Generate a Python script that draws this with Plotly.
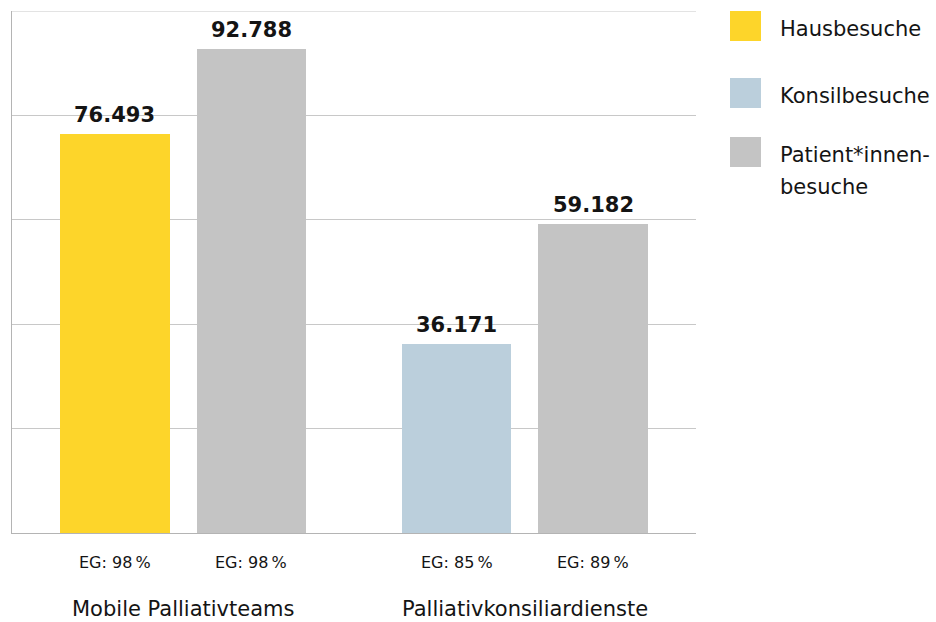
import plotly.graph_objects as go

# Categories and values
groups = ["Mobile Palliativteams", "Palliativkonsiliardienste"]
series = ["Hausbesuche", "Konsilbesuche", "Patient*innen-\nbesuche"]
series_colors = ["#FDD52A", "#BBCFDC", "#C4C4C4"]

# each bar: (group index, series index)
bar_group = [0, 0, 1, 1]
bar_series = [0, 2, 1, 2]
bar_values = [76493, 92788, 36171, 59182]
bar_eg = ["EG: 98\u2009%", "EG: 98\u2009%", "EG: 85\u2009%", "EG: 89\u2009%"]

y_max = 100000
y_step = 20000

FONT = "DejaVu Sans"
TEXT = "#141414"
GRID = "#C8C8C8"

# slot positions: two bars per group, groups separated by an extra half slot
slot_in_group = []
seen = {}
for g in bar_group:
    slot_in_group.append(seen.get(g, 0))
    seen[g] = seen.get(g, 0) + 1
bar_x = [g * 2.5 + s for g, s in zip(bar_group, slot_in_group)]


def de_num(v):
    return f"{v:,}".replace(",", ".")


fig = go.Figure()
for si, name in enumerate(series):
    xs = [x for x, s in zip(bar_x, bar_series) if s == si]
    ys = [v for v, s in zip(bar_values, bar_series) if s == si]
    fig.add_trace(go.Bar(
        x=xs, y=ys, name=name.replace("\n", ""),
        marker=dict(color=series_colors[si], line=dict(width=0)),
        width=0.803, showlegend=False, hoverinfo="skip",
    ))

annotations = []
# value labels above bars
for x, v in zip(bar_x, bar_values):
    annotations.append(dict(
        x=x, y=v, xref="x", yref="y", text=f"<b>{de_num(v)}</b>",
        showarrow=False, yanchor="bottom", xanchor="center", yshift=5,
        font=dict(family=FONT, size=21, color=TEXT),
    ))
# EG labels below bars
for x, t in zip(bar_x, bar_eg):
    annotations.append(dict(
        x=x, y=0, xref="x", yref="paper", text=t, showarrow=False,
        yanchor="middle", xanchor="center", yshift=-29,
        font=dict(family=FONT, size=16, color=TEXT),
    ))
# group labels
for gi, gname in enumerate(groups):
    xs = [x for x, g in zip(bar_x, bar_group) if g == gi]
    annotations.append(dict(
        x=sum(xs) / len(xs), y=0, xref="x", yref="paper", text=gname,
        showarrow=False, yanchor="middle", xanchor="center", yshift=-76,
        font=dict(family=FONT, size=21, color=TEXT),
    ))

# top border line at the axis maximum
shapes = [dict(type="line", xref="paper", yref="y", x0=0, x1=1,
               y0=y_max, y1=y_max, line=dict(color=GRID, width=1))]

# legend drawn as swatches with labels
legend_tops = [0, -67, -126]
for si, name in enumerate(series):
    top = legend_tops[si]
    shapes.append(dict(
        type="rect", xref="paper", yref="paper", xanchor=1, yanchor=1,
        xsizemode="pixel", ysizemode="pixel",
        x0=34, x1=65, y0=top - 30, y1=top,
        fillcolor=series_colors[si], line=dict(width=0),
    ))
    for li, line in enumerate(name.split("\n")):
        annotations.append(dict(
            x=1, y=1, xref="paper", yref="paper", text=line, showarrow=False,
            xanchor="left", yanchor="middle", xshift=82,
            yshift=top - 18 - li * 32,
            font=dict(family=FONT, size=21, color=TEXT),
        ))

fig.update_layout(
    width=936, height=622,
    margin=dict(l=12, r=240, t=11, b=89),
    paper_bgcolor="white", plot_bgcolor="white",
    annotations=annotations, shapes=shapes,
    bargap=0,
    xaxis=dict(range=[-0.752, 4.252], showgrid=False, zeroline=False,
               showticklabels=False, ticks="", showline=True,
               linecolor="#B4B4B4", linewidth=1),
    yaxis=dict(range=[0, y_max], dtick=y_step, tick0=0, showgrid=True,
               gridcolor=GRID, gridwidth=1, zeroline=False,
               showticklabels=False, ticks="", showline=True,
               linecolor="#B4B4B4", linewidth=1),
)

fig.write_html("out.html")
